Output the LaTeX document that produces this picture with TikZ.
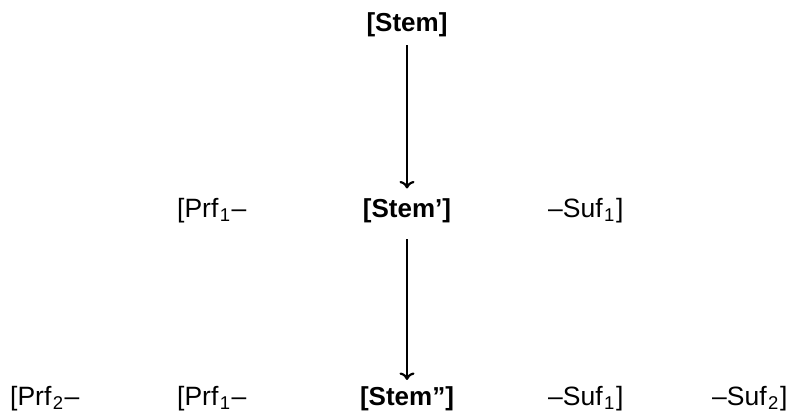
\documentclass[tikz,border=0pt]{standalone}
\usepackage{fontspec}
\setmainfont{Liberation Sans}
\usetikzlibrary{arrows.meta}
\newcommand\mysb[1]{\hspace{1.5pt}\raisebox{-0.15em}{\fontsize{18.5}{20}\selectfont #1}\hspace{1.5pt}}
\begin{document}
\begin{tikzpicture}[x=1pt,y=1pt,
  lbl/.style={inner sep=0pt,anchor=base west,font=\fontsize{26.5}{30}\selectfont},
  stem/.style={lbl,anchor=base,font=\fontsize{26}{30}\selectfont\bfseries},
  arr/.style={line width=2.2pt,-{To[length=7.5pt,width=15pt,line width=2.2pt]}}]
\useasboundingbox (0,0) rectangle (810,414);
\node[stem] (s0) at (407,382.5) {[Stem]};
\node[lbl] (p1a) at (177,196.5) {[Prf\mysb{1}–};
\node[stem] (s1) at (407,196.5) {[Stem’]};
\node[lbl] (u1a) at (548,196.5) {–Suf\mysb{1}]};
\node[lbl] (p2b) at (10,8) {[Prf\mysb{2}–};
\node[lbl] (p1b) at (177,8) {[Prf\mysb{1}–};
\node[stem] (s2) at (407,8) {[Stem”]};
\node[lbl] (u1b) at (548,8) {–Suf\mysb{1}]};
\node[lbl] (u2b) at (712,8) {–Suf\mysb{2}]};
\draw[arr] ([yshift=-8pt]s0.south) -- ([yshift=10pt]s1.north);
\draw[arr] ([yshift=-16pt]s1.south) -- ([yshift=7pt]s2.north);
\end{tikzpicture}
\end{document}
